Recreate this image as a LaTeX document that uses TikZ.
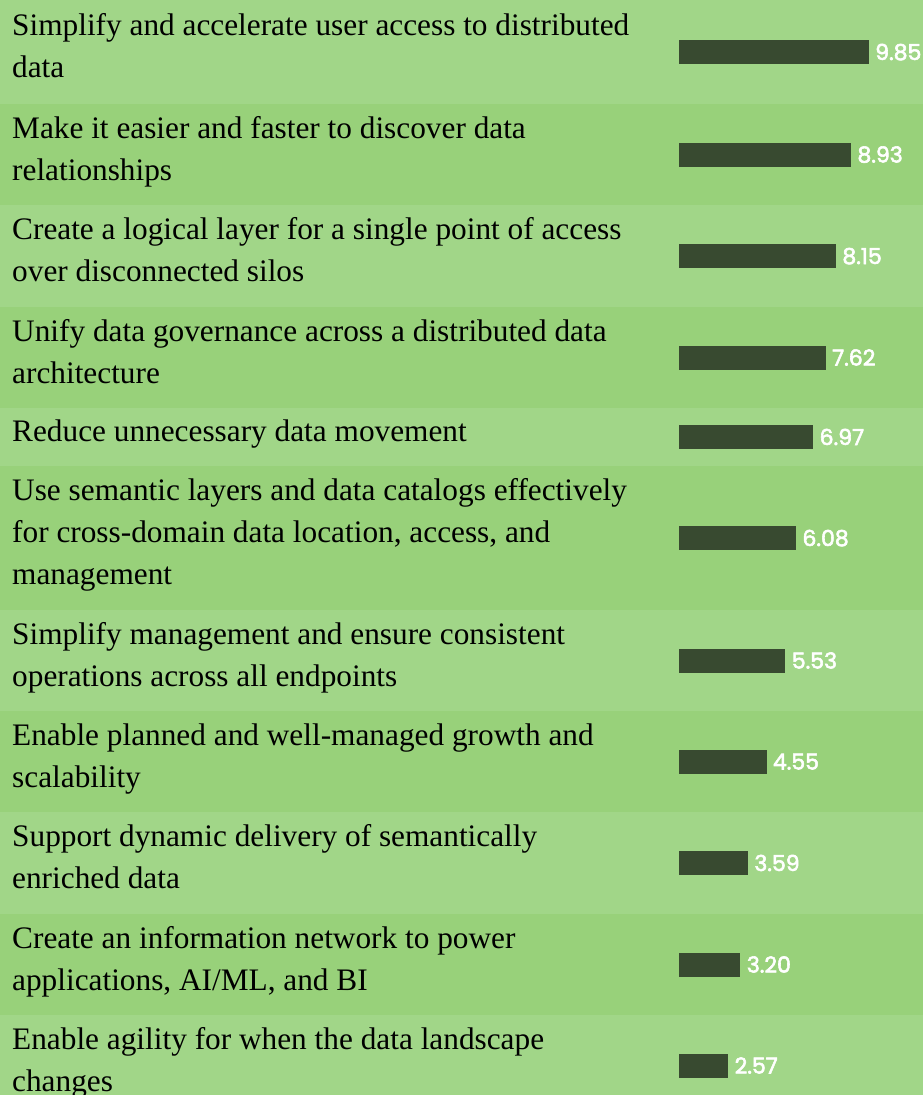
\documentclass[tikz,border=0pt]{standalone}
\usepackage{fontspec}
\setmainfont{Liberation Serif}
\newfontfamily\lblfont{Poppins}[FakeBold=2.6]
\definecolor{rowlight}{HTML}{A1D688}
\definecolor{rowdark}{HTML}{98D17A}
\definecolor{barcol}{HTML}{384A30}
\newcommand\chartrow[5]{%
  % #1 name, #2 centre y, #3 lines, #4 value, #5 text
  \pgfmathsetmacro\firstbase{#2+4.5-(#3-1)*21}
  \pgfmathsetmacro\barw{19.3*#4}
  \node[rowtext] (t#1) at (12,\firstbase-29.4) {#5};
  \node[barbox, minimum width=\barw pt] (b#1) at (678.5,#2) {};
  \node[vallabel] (v#1) at ([xshift=6pt,yshift=-8pt]b#1.east) {#4};
}
\begin{document}
\begin{tikzpicture}[x=1pt,y=-1pt,
  rowtext/.style={anchor=north west, inner sep=0pt, align=left, text=black,
    font=\fontsize{31.3}{42}\selectfont},
  barbox/.style={anchor=west, fill=barcol, draw=none, inner sep=0pt, minimum height=24pt},
  vallabel/.style={anchor=base west, inner sep=0pt, text=white,
    font=\lblfont\fontsize{22}{26}\selectfont}]
\useasboundingbox (0,0) rectangle (923,1095);
\begin{scope}
\clip (0,0) rectangle (923,1095);
\fill[rowlight] (0,0) rectangle (923,104);
\fill[rowdark] (0,104) rectangle (923,205);
\fill[rowlight] (0,205) rectangle (923,307);
\fill[rowdark] (0,307) rectangle (923,408);
\fill[rowlight] (0,408) rectangle (923,466);
\fill[rowdark] (0,466) rectangle (923,610);
\fill[rowlight] (0,610) rectangle (923,711);
\fill[rowdark] (0,711) rectangle (923,812);
\fill[rowlight] (0,812) rectangle (923,914);
\fill[rowdark] (0,914) rectangle (923,1015);
\fill[rowlight] (0,1015) rectangle (923,1095);
\chartrow{1}{52}{2}{9.85}{\strut Simplify and accelerate user access to distributed\\\strut data}
\chartrow{2}{154.5}{2}{8.93}{\strut Make it easier and faster to discover data\\\strut relationships}
\chartrow{3}{256}{2}{8.15}{\strut Create a logical layer for a single point of access\\\strut over disconnected silos}
\chartrow{4}{357.5}{2}{7.62}{\strut Unify data governance across a distributed data\\\strut architecture}
\chartrow{5}{437}{1}{6.97}{\strut Reduce unnecessary data movement}
\chartrow{6}{538}{3}{6.08}{\strut Use semantic layers and data catalogs effectively\\\strut for cross-domain data location, access, and\\\strut management}
\chartrow{7}{660.5}{2}{5.53}{\strut Simplify management and ensure consistent\\\strut operations across all endpoints}
\chartrow{8}{761.5}{2}{4.55}{\strut Enable planned and well-managed growth and\\\strut scalability}
\chartrow{9}{863}{2}{3.59}{\strut Support dynamic delivery of semantically\\\strut enriched data}
\chartrow{10}{964.5}{2}{3.20}{\strut Create an information network to power\\\strut applications, AI/ML, and BI}
\chartrow{11}{1065.5}{2}{2.57}{\strut Enable agility for when the data landscape\\\strut changes}
\end{scope}
\end{tikzpicture}
\end{document}
